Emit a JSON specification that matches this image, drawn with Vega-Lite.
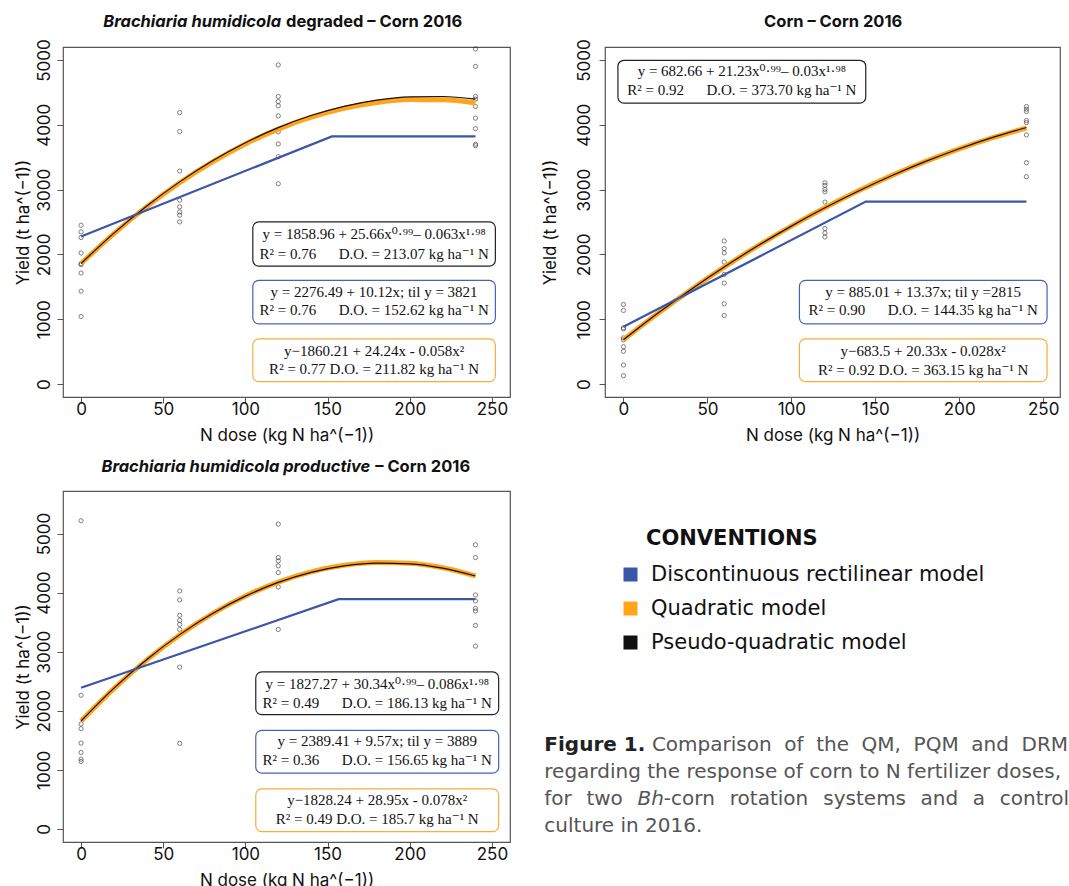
{
  "$schema": "https://vega.github.io/schema/vega-lite/v6.json",
  "padding": {"left": 13, "top": 13, "right": 0, "bottom": 0},
  "background": "white",
  "config": {
    "view": {"stroke": "#555", "strokeWidth": 1.2},
    "axis": {"grid": false, "domain": false, "tickColor": "#555", "tickSize": 6, "labelFont": "Inter", "labelFontSize": 17, "labelColor": "#111", "titleFont": "Inter", "titleFontSize": 17, "titleFontWeight": "normal", "titleColor": "#111", "labelOverlap": false, "labelFlush": false, "format": "d"},
    "axisX": {"labelPadding": -2, "titlePadding": 10},
    "axisY": {"labelAngle": -90, "labelAlign": "center", "labelBaseline": "bottom", "labelPadding": 4, "titlePadding": 3}
  },
  "resolve": {"scale": {"x": "independent", "y": "independent", "color": "shared"}},
  "datasets": {
    "pts": [
      {"panel":"deg","dose":0,"yield":2450},{"panel":"deg","dose":0,"yield":2347},{"panel":"deg","dose":0,"yield":2260},{"panel":"deg","dose":0,"yield":2022},{"panel":"deg","dose":0,"yield":1858},{"panel":"deg","dose":0,"yield":1842},{"panel":"deg","dose":0,"yield":1712},{"panel":"deg","dose":0,"yield":1433},{"panel":"deg","dose":0,"yield":1042},
      {"panel":"deg","dose":60,"yield":4189},{"panel":"deg","dose":60,"yield":3895},{"panel":"deg","dose":60,"yield":3286},{"panel":"deg","dose":60,"yield":2837},{"panel":"deg","dose":60,"yield":2734},{"panel":"deg","dose":60,"yield":2656},{"panel":"deg","dose":60,"yield":2605},{"panel":"deg","dose":60,"yield":2502},
      {"panel":"deg","dose":120,"yield":4923},{"panel":"deg","dose":120,"yield":4437},{"panel":"deg","dose":120,"yield":4359},{"panel":"deg","dose":120,"yield":4293},{"panel":"deg","dose":120,"yield":4138},{"panel":"deg","dose":120,"yield":3890},{"panel":"deg","dose":120,"yield":3704},{"panel":"deg","dose":120,"yield":3508},{"panel":"deg","dose":120,"yield":3090},
      {"panel":"deg","dose":240,"yield":5170},{"panel":"deg","dose":240,"yield":4901},{"panel":"deg","dose":240,"yield":4437},{"panel":"deg","dose":240,"yield":4396},{"panel":"deg","dose":240,"yield":4282},{"panel":"deg","dose":240,"yield":4102},{"panel":"deg","dose":240,"yield":3941},{"panel":"deg","dose":240,"yield":3700},{"panel":"deg","dose":240,"yield":3678},
      {"panel":"corn","dose":0,"yield":1228},{"panel":"corn","dose":0,"yield":1135},{"panel":"corn","dose":0,"yield":867},{"panel":"corn","dose":0,"yield":851},{"panel":"corn","dose":0,"yield":712},{"panel":"corn","dose":0,"yield":681},{"panel":"corn","dose":0,"yield":577},{"panel":"corn","dose":0,"yield":505},{"panel":"corn","dose":0,"yield":294},{"panel":"corn","dose":0,"yield":128},
      {"panel":"corn","dose":60,"yield":2207},{"panel":"corn","dose":60,"yield":2090},{"panel":"corn","dose":60,"yield":2022},{"panel":"corn","dose":60,"yield":1882},{"panel":"corn","dose":60,"yield":1805},{"panel":"corn","dose":60,"yield":1692},{"panel":"corn","dose":60,"yield":1557},{"panel":"corn","dose":60,"yield":1238},{"panel":"corn","dose":60,"yield":1057},
      {"panel":"corn","dose":120,"yield":3105},{"panel":"corn","dose":120,"yield":3065},{"panel":"corn","dose":120,"yield":3003},{"panel":"corn","dose":120,"yield":2966},{"panel":"corn","dose":120,"yield":2807},{"panel":"corn","dose":120,"yield":2399},{"panel":"corn","dose":120,"yield":2331},{"panel":"corn","dose":120,"yield":2269},
      {"panel":"corn","dose":240,"yield":4282},{"panel":"corn","dose":240,"yield":4241},{"panel":"corn","dose":240,"yield":4204},{"panel":"corn","dose":240,"yield":4065},{"panel":"corn","dose":240,"yield":4034},{"panel":"corn","dose":240,"yield":3844},{"panel":"corn","dose":240,"yield":3415},{"panel":"corn","dose":240,"yield":3198},
      {"panel":"prod","dose":0,"yield":5216},{"panel":"prod","dose":0,"yield":2264},{"panel":"prod","dose":0,"yield":1777},{"panel":"prod","dose":0,"yield":1697},{"panel":"prod","dose":0,"yield":1454},{"panel":"prod","dose":0,"yield":1296},{"panel":"prod","dose":0,"yield":1182},{"panel":"prod","dose":0,"yield":1143},
      {"panel":"prod","dose":60,"yield":4028},{"panel":"prod","dose":60,"yield":3876},{"panel":"prod","dose":60,"yield":3615},{"panel":"prod","dose":60,"yield":3530},{"panel":"prod","dose":60,"yield":3462},{"panel":"prod","dose":60,"yield":3377},{"panel":"prod","dose":60,"yield":2739},{"panel":"prod","dose":60,"yield":1449},
      {"panel":"prod","dose":120,"yield":5159},{"panel":"prod","dose":120,"yield":4594},{"panel":"prod","dose":120,"yield":4537},{"panel":"prod","dose":120,"yield":4453},{"panel":"prod","dose":120,"yield":4339},{"panel":"prod","dose":120,"yield":4096},{"panel":"prod","dose":120,"yield":3377},
      {"panel":"prod","dose":240,"yield":4809},{"panel":"prod","dose":240,"yield":4594},{"panel":"prod","dose":240,"yield":3961},{"panel":"prod","dose":240,"yield":3859},{"panel":"prod","dose":240,"yield":3734},{"panel":"prod","dose":240,"yield":3690},{"panel":"prod","dose":240,"yield":3445},{"panel":"prod","dose":240,"yield":3095}
    ],
    "curves": [
      {"panel":"deg","model":"Discontinuous rectilinear model","dose":0,"yield":2276.49},{"panel":"deg","model":"Discontinuous rectilinear model","dose":152.62,"yield":3821},{"panel":"deg","model":"Discontinuous rectilinear model","dose":240,"yield":3821},
      {"panel":"corn","model":"Discontinuous rectilinear model","dose":0,"yield":885.01},{"panel":"corn","model":"Discontinuous rectilinear model","dose":144.35,"yield":2815},{"panel":"corn","model":"Discontinuous rectilinear model","dose":240,"yield":2815},
      {"panel":"prod","model":"Discontinuous rectilinear model","dose":0,"yield":2389.41},{"panel":"prod","model":"Discontinuous rectilinear model","dose":156.7,"yield":3889},{"panel":"prod","model":"Discontinuous rectilinear model","dose":240,"yield":3889},
      {"panel":"deg","model":"Quadratic model","dose":0,"yield":1860.2},{"panel":"deg","model":"Quadratic model","dose":20,"yield":2321.8},{"panel":"deg","model":"Quadratic model","dose":40,"yield":2737.0},{"panel":"deg","model":"Quadratic model","dose":60,"yield":3105.8},{"panel":"deg","model":"Quadratic model","dose":80,"yield":3428.2},{"panel":"deg","model":"Quadratic model","dose":100,"yield":3704.2},{"panel":"deg","model":"Quadratic model","dose":120,"yield":3933.8},{"panel":"deg","model":"Quadratic model","dose":140,"yield":4117.0},{"panel":"deg","model":"Quadratic model","dose":160,"yield":4253.8},{"panel":"deg","model":"Quadratic model","dose":180,"yield":4344.2},{"panel":"deg","model":"Quadratic model","dose":200,"yield":4388.2},{"panel":"deg","model":"Quadratic model","dose":220,"yield":4385.8},{"panel":"deg","model":"Quadratic model","dose":240,"yield":4337.0},
      {"panel":"deg","model":"Pseudo-quadratic model","dose":0,"yield":1860.2},{"panel":"deg","model":"Pseudo-quadratic model","dose":20,"yield":2328.7},{"panel":"deg","model":"Pseudo-quadratic model","dose":40,"yield":2747.5},{"panel":"deg","model":"Pseudo-quadratic model","dose":60,"yield":3119.0},{"panel":"deg","model":"Pseudo-quadratic model","dose":80,"yield":3443.9},{"panel":"deg","model":"Pseudo-quadratic model","dose":100,"yield":3722.6},{"panel":"deg","model":"Pseudo-quadratic model","dose":120,"yield":3955.5},{"panel":"deg","model":"Pseudo-quadratic model","dose":140,"yield":4142.6},{"panel":"deg","model":"Pseudo-quadratic model","dose":160,"yield":4284.1},{"panel":"deg","model":"Pseudo-quadratic model","dose":180,"yield":4380.1},{"panel":"deg","model":"Pseudo-quadratic model","dose":200,"yield":4431.0},{"panel":"deg","model":"Pseudo-quadratic model","dose":220,"yield":4436.6},{"panel":"deg","model":"Pseudo-quadratic model","dose":240,"yield":4396.9},
      {"panel":"corn","model":"Quadratic model","dose":0,"yield":683.5},{"panel":"corn","model":"Quadratic model","dose":20,"yield":1078.9},{"panel":"corn","model":"Quadratic model","dose":40,"yield":1451.9},{"panel":"corn","model":"Quadratic model","dose":60,"yield":1802.5},{"panel":"corn","model":"Quadratic model","dose":80,"yield":2130.7},{"panel":"corn","model":"Quadratic model","dose":100,"yield":2436.5},{"panel":"corn","model":"Quadratic model","dose":120,"yield":2719.9},{"panel":"corn","model":"Quadratic model","dose":140,"yield":2980.9},{"panel":"corn","model":"Quadratic model","dose":160,"yield":3219.5},{"panel":"corn","model":"Quadratic model","dose":180,"yield":3435.7},{"panel":"corn","model":"Quadratic model","dose":200,"yield":3629.5},{"panel":"corn","model":"Quadratic model","dose":220,"yield":3800.9},{"panel":"corn","model":"Quadratic model","dose":240,"yield":3949.9},
      {"panel":"corn","model":"Pseudo-quadratic model","dose":0,"yield":682.7},{"panel":"corn","model":"Pseudo-quadratic model","dose":20,"yield":1083.4},{"panel":"corn","model":"Pseudo-quadratic model","dose":40,"yield":1456.5},{"panel":"corn","model":"Pseudo-quadratic model","dose":60,"yield":1805.9},{"panel":"corn","model":"Pseudo-quadratic model","dose":80,"yield":2132.4},{"panel":"corn","model":"Pseudo-quadratic model","dose":100,"yield":2436.5},{"panel":"corn","model":"Pseudo-quadratic model","dose":120,"yield":2718.6},{"panel":"corn","model":"Pseudo-quadratic model","dose":140,"yield":2978.9},{"panel":"corn","model":"Pseudo-quadratic model","dose":160,"yield":3217.5},{"panel":"corn","model":"Pseudo-quadratic model","dose":180,"yield":3434.6},{"panel":"corn","model":"Pseudo-quadratic model","dose":200,"yield":3630.3},{"panel":"corn","model":"Pseudo-quadratic model","dose":220,"yield":3804.6},{"panel":"corn","model":"Pseudo-quadratic model","dose":240,"yield":3957.6},
      {"panel":"prod","model":"Quadratic model","dose":0,"yield":1828.2},{"panel":"prod","model":"Quadratic model","dose":20,"yield":2376.0},{"panel":"prod","model":"Quadratic model","dose":40,"yield":2861.4},{"panel":"prod","model":"Quadratic model","dose":60,"yield":3284.4},{"panel":"prod","model":"Quadratic model","dose":80,"yield":3645.0},{"panel":"prod","model":"Quadratic model","dose":100,"yield":3943.2},{"panel":"prod","model":"Quadratic model","dose":120,"yield":4179.0},{"panel":"prod","model":"Quadratic model","dose":140,"yield":4352.4},{"panel":"prod","model":"Quadratic model","dose":160,"yield":4463.4},{"panel":"prod","model":"Quadratic model","dose":180,"yield":4512.0},{"panel":"prod","model":"Quadratic model","dose":200,"yield":4498.2},{"panel":"prod","model":"Quadratic model","dose":220,"yield":4422.0},{"panel":"prod","model":"Quadratic model","dose":240,"yield":4283.4},
      {"panel":"prod","model":"Pseudo-quadratic model","dose":0,"yield":1827.3},{"panel":"prod","model":"Pseudo-quadratic model","dose":20,"yield":2383.8},{"panel":"prod","model":"Pseudo-quadratic model","dose":40,"yield":2869.1},{"panel":"prod","model":"Pseudo-quadratic model","dose":60,"yield":3289.4},{"panel":"prod","model":"Pseudo-quadratic model","dose":80,"yield":3646.2},{"panel":"prod","model":"Pseudo-quadratic model","dose":100,"yield":3940.4},{"panel":"prod","model":"Pseudo-quadratic model","dose":120,"yield":4172.6},{"panel":"prod","model":"Pseudo-quadratic model","dose":140,"yield":4343.1},{"panel":"prod","model":"Pseudo-quadratic model","dose":160,"yield":4452.3},{"panel":"prod","model":"Pseudo-quadratic model","dose":180,"yield":4500.6},{"panel":"prod","model":"Pseudo-quadratic model","dose":200,"yield":4488.1},{"panel":"prod","model":"Pseudo-quadratic model","dose":220,"yield":4414.9},{"panel":"prod","model":"Pseudo-quadratic model","dose":240,"yield":4281.2}
    ],
    "boxes": [
      {"panel":"deg","model":"Pseudo-quadratic model","dose":104.5,"dose2":252.1,"yield":1820,"yield2":2502},
      {"panel":"deg","model":"Discontinuous rectilinear model","dose":104.5,"dose2":252.1,"yield":929,"yield2":1599},
      {"panel":"deg","model":"Quadratic model","dose":104.5,"dose2":252.1,"yield":36,"yield2":697},
      {"panel":"corn","model":"Pseudo-quadratic model","dose":-3.3,"dose2":144.3,"yield":4334,"yield2":4995},
      {"panel":"corn","model":"Discontinuous rectilinear model","dose":104.8,"dose2":252.3,"yield":929,"yield2":1599},
      {"panel":"corn","model":"Quadratic model","dose":104.8,"dose2":252.3,"yield":36,"yield2":697},
      {"panel":"prod","model":"Pseudo-quadratic model","dose":106.3,"dose2":254.1,"yield":1935,"yield2":2659},
      {"panel":"prod","model":"Discontinuous rectilinear model","dose":106.3,"dose2":254.1,"yield":945,"yield2":1670},
      {"panel":"prod","model":"Quadratic model","dose":106.3,"dose2":254.1,"yield":-44,"yield2":679}
    ],
    "eqs": [
      {"panel":"deg","dose":178.3,"yield":2322,"text":"y = 1858.96 + 25.66x⁰·⁹⁹– 0.063x¹·⁹⁸"},
      {"panel":"deg","dose":178.3,"yield":2012,"text":"R² = 0.76\u2002\u2002\u2002D.O. = 213.07 kg ha⁻¹ N"},
      {"panel":"deg","dose":178.3,"yield":1418,"text":"y = 2276.49 + 10.12x; til y = 3821"},
      {"panel":"deg","dose":178.3,"yield":1135,"text":"R² = 0.76\u2002\u2002\u2002D.O. = 152.62 kg ha⁻¹ N"},
      {"panel":"deg","dose":178.3,"yield":515,"text":"y−1860.21 + 24.24x - 0.058x²"},
      {"panel":"deg","dose":178.3,"yield":232,"text":"R² = 0.77 D.O. = 211.82 kg ha⁻¹ N"},
      {"panel":"corn","dose":70.5,"yield":4824,"text":"y = 682.66 + 21.23x⁰·⁹⁹– 0.03x¹·⁹⁸"},
      {"panel":"corn","dose":70.5,"yield":4529,"text":"R² = 0.92\u2002\u2002\u2002D.O. = 373.70 kg ha⁻¹ N"},
      {"panel":"corn","dose":178.5,"yield":1418,"text":"y = 885.01 + 13.37x; til y =2815"},
      {"panel":"corn","dose":178.5,"yield":1135,"text":"R² = 0.90\u2002\u2002\u2002D.O. = 144.35 kg ha⁻¹ N"},
      {"panel":"corn","dose":178.5,"yield":515,"text":"y−683.5 + 20.33x - 0.028x²"},
      {"panel":"corn","dose":178.5,"yield":222,"text":"R² = 0.92 D.O. = 363.15 kg ha⁻¹ N"},
      {"panel":"prod","dose":180.2,"yield":2461,"text":"y = 1827.27 + 30.34x⁰·⁹⁹– 0.086x¹·⁹⁸"},
      {"panel":"prod","dose":180.2,"yield":2133,"text":"R² = 0.49\u2002\u2002\u2002D.O. = 186.13 kg ha⁻¹ N"},
      {"panel":"prod","dose":180.2,"yield":1483,"text":"y = 2389.41 + 9.57x; til y = 3889"},
      {"panel":"prod","dose":180.2,"yield":1161,"text":"R² = 0.36\u2002\u2002\u2002D.O. = 156.65 kg ha⁻¹ N"},
      {"panel":"prod","dose":180.2,"yield":492,"text":"y−1828.24 + 28.95x - 0.078x²"},
      {"panel":"prod","dose":180.2,"yield":170,"text":"R² = 0.49 D.O. = 185.7 kg ha⁻¹ N"}
    ],
    "titles": [
      {"panel":"deg","part":"sp","dose":121.7,"yield":5587,"text":"Brachiaria humidicola"},
      {"panel":"deg","part":"rest","dose":124.7,"yield":5587,"text":"degraded – Corn 2016"},
      {"panel":"corn","part":"center","dose":124.9,"yield":5587,"text":"Corn – Corn 2016"},
      {"panel":"prod","part":"sp","dose":176.0,"yield":6121,"text":"Brachiaria humidicola productive"},
      {"panel":"prod","part":"rest","dose":179.0,"yield":6121,"text":"– Corn 2016"}
    ]
  },
  "spacing": 14,
  "vconcat": [
    {
      "spacing": 29,
      "resolve": {"scale": {"x": "independent", "y": "independent", "color": "shared"}},
      "hconcat": [
        {
          "width": 447, "height": 350,
          "encoding": {
            "x": {"field": "dose", "type": "quantitative", "scale": {"domain": [-11, 261], "nice": false, "zero": false}, "axis": {"title": "N dose (kg N ha^(−1))", "values": [0, 50, 100, 150, 200, 250]}},
            "y": {"field": "yield", "type": "quantitative", "scale": {"domain": [-200, 5200], "nice": false, "zero": false}, "axis": {"title": "Yield (t ha^(−1))", "values": [0, 1000, 2000, 3000, 4000, 5000]}}
          },
          "layer": [
            {"data": {"name": "pts"}, "transform": [{"filter": "datum.panel == 'deg'"}], "mark": {"type": "point", "shape": "circle", "filled": false, "size": 18, "strokeWidth": 0.8, "color": "#222"}},
            {"data": {"name": "curves"}, "transform": [{"filter": "datum.panel == 'deg' && datum.model == 'Quadratic model'"}], "mark": {"type": "line", "strokeWidth": 5, "interpolate": "monotone"},
             "encoding": {"color": {"field": "model", "type": "nominal", "scale": {"domain": ["Discontinuous rectilinear model", "Quadratic model", "Pseudo-quadratic model"], "range": ["#3B55A8", "#FFA41B", "#111111"]},
               "legend": {"title": "CONVENTIONS", "orient": "none", "legendX": 557, "legendY": 481, "symbolType": "square", "symbolSize": 196, "symbolStrokeWidth": 0, "titleFont": "DejaVu Sans", "titleFontSize": 21, "titleFontWeight": "bold", "titleColor": "#111", "titlePadding": 15, "labelFont": "DejaVu Sans", "labelFontSize": 21, "labelColor": "#111", "labelOffset": 10, "rowPadding": 12, "padding": 0, "labelLimit": 600,
                 "encode": {"symbols": {"update": {"fill": {"scale": "color", "field": "value"}, "fillOpacity": {"value": 1}, "opacity": {"value": 1}}}, "title": {"update": {"dx": {"value": 26}}}}}}}},
            {"data": {"name": "curves"}, "transform": [{"filter": "datum.panel == 'deg' && datum.model == 'Pseudo-quadratic model'"}], "mark": {"type": "line", "strokeWidth": 1.2, "interpolate": "monotone"},
             "encoding": {"color": {"field": "model", "type": "nominal"}}},
            {"data": {"name": "curves"}, "transform": [{"filter": "datum.panel == 'deg' && datum.model == 'Discontinuous rectilinear model'"}], "mark": {"type": "line", "strokeWidth": 2.2},
             "encoding": {"color": {"field": "model", "type": "nominal"}}},
            {"data": {"name": "boxes"}, "transform": [{"filter": "datum.panel == 'deg'"}], "mark": {"type": "rect", "fill": "white", "cornerRadius": 6, "strokeWidth": 1.2},
             "encoding": {"x2": {"field": "dose2"}, "y2": {"field": "yield2"}, "stroke": {"field": "model", "type": "nominal", "scale": {"domain": ["Discontinuous rectilinear model", "Quadratic model", "Pseudo-quadratic model"], "range": ["#4A62B4", "#F6AE3A", "#222222"]}, "legend": null}}},
            {"data": {"name": "eqs"}, "transform": [{"filter": "datum.panel == 'deg'"}], "mark": {"type": "text", "font": "Liberation Serif, DejaVu Serif", "fontSize": 15, "align": "center", "baseline": "middle", "color": "#111"},
             "encoding": {"text": {"field": "text", "type": "nominal"}}},
            {"data": {"name": "titles"}, "transform": [{"filter": "datum.panel == 'deg' && datum.part == 'sp'"}], "mark": {"type": "text", "font": "Inter", "fontSize": 16.5, "fontWeight": "bold", "fontStyle": "italic", "align": "right", "baseline": "middle", "color": "#111"},
             "encoding": {"text": {"field": "text", "type": "nominal"}}},
            {"data": {"name": "titles"}, "transform": [{"filter": "datum.panel == 'deg' && datum.part == 'rest'"}], "mark": {"type": "text", "font": "Inter", "fontSize": 16.5, "fontWeight": "bold", "align": "left", "baseline": "middle", "color": "#111"},
             "encoding": {"text": {"field": "text", "type": "nominal"}}}
          ]
        },
        {
          "width": 455, "height": 350,
          "encoding": {
            "x": {"field": "dose", "type": "quantitative", "scale": {"domain": [-11, 260], "nice": false, "zero": false}, "axis": {"title": "N dose (kg N ha^(−1))", "values": [0, 50, 100, 150, 200, 250]}},
            "y": {"field": "yield", "type": "quantitative", "scale": {"domain": [-200, 5200], "nice": false, "zero": false}, "axis": {"title": "Yield (t ha^(−1))", "values": [0, 1000, 2000, 3000, 4000, 5000], "labelPadding": 6, "titlePadding": 16}}
          },
          "layer": [
            {"data": {"name": "pts"}, "transform": [{"filter": "datum.panel == 'corn'"}], "mark": {"type": "point", "shape": "circle", "filled": false, "size": 18, "strokeWidth": 0.8, "color": "#222"}},
            {"data": {"name": "curves"}, "transform": [{"filter": "datum.panel == 'corn' && datum.model == 'Quadratic model'"}], "mark": {"type": "line", "strokeWidth": 5, "interpolate": "monotone"},
             "encoding": {"color": {"field": "model", "type": "nominal"}}},
            {"data": {"name": "curves"}, "transform": [{"filter": "datum.panel == 'corn' && datum.model == 'Pseudo-quadratic model'"}], "mark": {"type": "line", "strokeWidth": 1.2, "interpolate": "monotone"},
             "encoding": {"color": {"field": "model", "type": "nominal"}}},
            {"data": {"name": "curves"}, "transform": [{"filter": "datum.panel == 'corn' && datum.model == 'Discontinuous rectilinear model'"}], "mark": {"type": "line", "strokeWidth": 2.2},
             "encoding": {"color": {"field": "model", "type": "nominal"}}},
            {"data": {"name": "boxes"}, "transform": [{"filter": "datum.panel == 'corn'"}], "mark": {"type": "rect", "fill": "white", "cornerRadius": 6, "strokeWidth": 1.2},
             "encoding": {"x2": {"field": "dose2"}, "y2": {"field": "yield2"}, "stroke": {"field": "model", "type": "nominal", "scale": {"domain": ["Discontinuous rectilinear model", "Quadratic model", "Pseudo-quadratic model"], "range": ["#4A62B4", "#F6AE3A", "#222222"]}, "legend": null}}},
            {"data": {"name": "eqs"}, "transform": [{"filter": "datum.panel == 'corn'"}], "mark": {"type": "text", "font": "Liberation Serif, DejaVu Serif", "fontSize": 15, "align": "center", "baseline": "middle", "color": "#111"},
             "encoding": {"text": {"field": "text", "type": "nominal"}}},
            {"data": {"name": "titles"}, "transform": [{"filter": "datum.panel == 'corn'"}], "mark": {"type": "text", "font": "Inter", "fontSize": 16.5, "fontWeight": "bold", "align": "center", "baseline": "middle", "color": "#111"},
             "encoding": {"text": {"field": "text", "type": "nominal"}}}
          ]
        }
      ]
    },
    {
      "spacing": 24,
      "resolve": {"scale": {"x": "independent", "y": "independent", "color": "shared"}},
      "hconcat": [
        {
          "width": 447, "height": 351,
          "encoding": {
            "x": {"field": "dose", "type": "quantitative", "scale": {"domain": [-11, 261], "nice": false, "zero": false}, "axis": {"title": "N dose (kg N ha^(−1))", "values": [0, 50, 100, 150, 200, 250]}},
            "y": {"field": "yield", "type": "quantitative", "scale": {"domain": [-220, 5720], "nice": false, "zero": false}, "axis": {"title": "Yield (t ha^(−1))", "values": [0, 1000, 2000, 3000, 4000, 5000]}}
          },
          "layer": [
            {"data": {"name": "pts"}, "transform": [{"filter": "datum.panel == 'prod'"}], "mark": {"type": "point", "shape": "circle", "filled": false, "size": 18, "strokeWidth": 0.8, "color": "#222"}},
            {"data": {"name": "curves"}, "transform": [{"filter": "datum.panel == 'prod' && datum.model == 'Quadratic model'"}], "mark": {"type": "line", "strokeWidth": 5, "interpolate": "monotone"},
             "encoding": {"color": {"field": "model", "type": "nominal"}}},
            {"data": {"name": "curves"}, "transform": [{"filter": "datum.panel == 'prod' && datum.model == 'Pseudo-quadratic model'"}], "mark": {"type": "line", "strokeWidth": 1.2, "interpolate": "monotone"},
             "encoding": {"color": {"field": "model", "type": "nominal"}}},
            {"data": {"name": "curves"}, "transform": [{"filter": "datum.panel == 'prod' && datum.model == 'Discontinuous rectilinear model'"}], "mark": {"type": "line", "strokeWidth": 2.2},
             "encoding": {"color": {"field": "model", "type": "nominal"}}},
            {"data": {"name": "boxes"}, "transform": [{"filter": "datum.panel == 'prod'"}], "mark": {"type": "rect", "fill": "white", "cornerRadius": 6, "strokeWidth": 1.2},
             "encoding": {"x2": {"field": "dose2"}, "y2": {"field": "yield2"}, "stroke": {"field": "model", "type": "nominal", "scale": {"domain": ["Discontinuous rectilinear model", "Quadratic model", "Pseudo-quadratic model"], "range": ["#4A62B4", "#F6AE3A", "#222222"]}, "legend": null}}},
            {"data": {"name": "eqs"}, "transform": [{"filter": "datum.panel == 'prod'"}], "mark": {"type": "text", "font": "Liberation Serif, DejaVu Serif", "fontSize": 15, "align": "center", "baseline": "middle", "color": "#111"},
             "encoding": {"text": {"field": "text", "type": "nominal"}}},
            {"data": {"name": "titles"}, "transform": [{"filter": "datum.panel == 'prod' && datum.part == 'sp'"}], "mark": {"type": "text", "font": "Inter", "fontSize": 16.5, "fontWeight": "bold", "fontStyle": "italic", "align": "right", "baseline": "middle", "color": "#111"},
             "encoding": {"text": {"field": "text", "type": "nominal"}}},
            {"data": {"name": "titles"}, "transform": [{"filter": "datum.panel == 'prod' && datum.part == 'rest'"}], "mark": {"type": "text", "font": "Inter", "fontSize": 16.5, "fontWeight": "bold", "align": "left", "baseline": "middle", "color": "#111"},
             "encoding": {"text": {"field": "text", "type": "nominal"}}}
          ]
        },
        {
          "width": 539, "height": 351,
          "view": {"stroke": null},
          "data": {"values": [
            {"line": 1, "pos": 1.73, "part": "label", "text": "Figure 1."},
            {"line": 1, "pos": 21.69, "part": "body", "text": "Comparison"},
            {"line": 1, "pos": 46.25, "part": "body", "text": "of"},
            {"line": 1, "pos": 52.17, "part": "body", "text": "the"},
            {"line": 1, "pos": 60.59, "part": "body", "text": "QM,"},
            {"line": 1, "pos": 70.24, "part": "body", "text": "PQM"},
            {"line": 1, "pos": 80.95, "part": "body", "text": "and"},
            {"line": 1, "pos": 90.26, "part": "body", "text": "DRM"},
            {"line": 2, "pos": 1.73, "part": "body", "text": "regarding the response of corn to N fertilizer doses,"},
            {"line": 3, "pos": 1.73, "part": "body", "text": "for"},
            {"line": 3, "pos": 9.54, "part": "body", "text": "two"},
            {"line": 3, "pos": 19.0, "part": "species", "text": "Bh"},
            {"line": 3, "pos": 23.9, "part": "body", "text": "-corn"},
            {"line": 3, "pos": 36.14, "part": "body", "text": "rotation"},
            {"line": 3, "pos": 53.49, "part": "body", "text": "systems"},
            {"line": 3, "pos": 71.54, "part": "body", "text": "and"},
            {"line": 3, "pos": 81.22, "part": "body", "text": "a"},
            {"line": 3, "pos": 86.22, "part": "body", "text": "control"},
            {"line": 4, "pos": 1.73, "part": "body", "text": "culture in 2016."}
          ]},
          "encoding": {
            "x": {"field": "pos", "type": "quantitative", "scale": {"domain": [0, 100]}, "axis": null},
            "y": {"field": "line", "type": "quantitative", "scale": {"domain": [-8.41, 4.59], "reverse": true, "zero": false, "nice": false}, "axis": null},
            "text": {"field": "text", "type": "nominal"}
          },
          "layer": [
            {"transform": [{"filter": "datum.part == 'label'"}], "mark": {"type": "text", "align": "left", "baseline": "middle", "font": "DejaVu Sans", "fontSize": 20, "fontWeight": "bold", "color": "#222"}},
            {"transform": [{"filter": "datum.part == 'body'"}], "mark": {"type": "text", "align": "left", "baseline": "middle", "font": "DejaVu Sans", "fontSize": 20, "color": "#555"}},
            {"transform": [{"filter": "datum.part == 'species'"}], "mark": {"type": "text", "align": "left", "baseline": "middle", "font": "DejaVu Sans", "fontSize": 20, "fontStyle": "italic", "color": "#555"}}
          ]
        }
      ]
    }
  ]
}
